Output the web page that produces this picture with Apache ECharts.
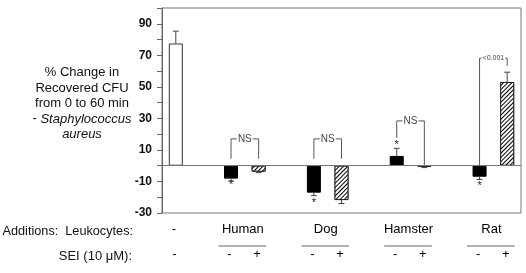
<!DOCTYPE html>
<html>
<head>
<meta charset="utf-8">
<script src="https://cdn.jsdelivr.net/npm/echarts@6/dist/echarts.min.js"></script>
<style>
html,body{margin:0;padding:0;background:#fff;}
#c{width:526px;height:273px;}
</style>
</head>
<body>
<div id="c"></div>
<script>
// ---- data ----
const seiLabels = ['-', '', '-', '+', '', '-', '+', '', '-', '+', '', '-', '+'];
const groupNames = ['Human', 'Dog', 'Hamster', 'Rat'];
const controlLabel = '-';
const controlValue = [77.5];
const controlError = [7.8];
const leukValues = [-8.2, -17.1, 6.2, -7.0];
const leukErrors = [1.5, 1.9, 4.8, 1.7];
const seiValues = [-3.8, -21.8, -0.5, 53.1];
const seiErrors = [0.6, 2.2, 0.7, 6.2];
const starValues = [-10.3, -21.5, 14.9, -11.0];
const bracketTexts = ['NS', 'NS', 'NS', '<0.001'];
const bracketTops = [17, 17, 28.4, 68.2];
const bracketLeftEnds = [4.4, 4.4, 17.6, 0];
const bracketRightEnds = [4.4, 4.4, 0.4, 63.3];
const yLabelValues = [-30, -10, 10, 30, 50, 70, 90];

// ---- build ----
const nSlots = seiLabels.length;
const leukSlot = g => 2 + 3 * g;
const seiSlot = g => 3 + 3 * g;
const controlData = new Array(nSlots).fill('-');
controlData[0] = controlValue[0];
const leukData = new Array(nSlots).fill('-');
const seiData = new Array(nSlots).fill('-');
groupNames.forEach((_, g) => { leukData[leukSlot(g)] = leukValues[g]; seiData[seiSlot(g)] = seiValues[g]; });

const nameAxis = new Array(nSlots * 2 + 1).fill('');
nameAxis[1] = controlLabel;
groupNames.forEach((n, g) => { nameAxis[6 + 6 * g] = n; });

const errData = [[0, controlValue[0], controlError[0]]];
groupNames.forEach((_, g) => {
  errData.push([leukSlot(g), leukValues[g], leukErrors[g]]);
  errData.push([seiSlot(g), seiValues[g], seiErrors[g]]);
});
const starData = groupNames.map((_, g) => [leukSlot(g), starValues[g]]);
const bracketData = groupNames.map((_, g) => [leukSlot(g), seiSlot(g), bracketTops[g], bracketLeftEnds[g], bracketRightEnds[g], g]);
const underlineData = groupNames.map((_, g) => [leukSlot(g), seiSlot(g)]);

const FONT = '"Liberation Sans", Arial, sans-serif';
const LINE = '#666';

const chart = echarts.init(document.getElementById('c'), null, {renderer: 'canvas'});
chart.setOption({
  animation: false,
  backgroundColor: '#fff',
  textStyle: {fontFamily: FONT},
  grid: {left: 162, right: 5, top: 8, bottom: 60, show: true, borderColor: '#777', borderWidth: 1},
  xAxis: [
    {type: 'category', data: seiLabels, position: 'bottom',
     axisLine: {show: false}, axisTick: {show: false},
     axisLabel: {interval: 0, margin: 35, fontSize: 13, color: '#000', fontFamily: FONT, padding: [0, 3, 0, 0]}},
    {type: 'category', data: nameAxis, boundaryGap: false, position: 'bottom',
     axisLine: {show: false}, axisTick: {show: false},
     axisLabel: {interval: 0, margin: 10, fontSize: 13, color: '#000', fontFamily: FONT, padding: [0, 4, 0, 0]}}
  ],
  yAxis: {
    type: 'value', min: -30, max: 100, interval: 10,
    axisLine: {show: true, lineStyle: {color: LINE}},
    axisTick: {show: true, length: 5, lineStyle: {color: LINE}},
    splitLine: {show: false},
    axisLabel: {margin: 10, fontSize: 12, fontWeight: 'bold', color: '#111', fontFamily: FONT,
      formatter: v => (yLabelValues.indexOf(v) >= 0 ? String(v) : '')}
  },
  graphic: [
    {type: 'text', x: 82, y: 103.5, style: {
      text: '% Change in\nRecovered CFU\nfrom 0 to 60 min\n- {i|Staphylococcus}\n{i|aureus}',
      align: 'center', verticalAlign: 'middle', fontSize: 13, lineHeight: 15.4, fontFamily: FONT, fill: '#111',
      rich: {i: {fontStyle: 'italic', fontSize: 13, lineHeight: 15.4, fontFamily: FONT, fill: '#111'}}}},
    {type: 'text', x: 133, y: 231, style: {text: 'Additions:  Leukocytes:', align: 'right', verticalAlign: 'middle',
      fontSize: 12.7, fontFamily: FONT, fill: '#111'}},
    {type: 'text', x: 132, y: 256, style: {text: 'SEI (10 \u03bcM):', align: 'right', verticalAlign: 'middle',
      fontSize: 13, fontFamily: FONT, fill: '#111'}}
  ],
  series: [
    {type: 'bar', name: 'control', data: controlData, barWidth: 14, barGap: '-100%',
     itemStyle: {color: '#fff', borderColor: '#333', borderWidth: 1}},
    {type: 'bar', name: 'leukocytes', data: leukData, barWidth: 14, barGap: '-100%',
     itemStyle: {color: '#000', borderColor: '#000', borderWidth: 1},
     markLine: {silent: true, symbol: ['none', 'none'], label: {show: false},
       lineStyle: {color: '#777', type: 'solid', width: 1}, data: [{yAxis: 0}]}},
    {type: 'bar', name: 'leukocytes + SEI', data: seiData, barWidth: 14, barGap: '-100%',
     itemStyle: {color: '#fff', borderColor: '#222', borderWidth: 1,
       decal: {symbol: 'rect', symbolSize: 1, color: '#000', backgroundColor: '#fff',
               dashArrayX: [1, 0], dashArrayY: [1, 2], rotation: -Math.PI / 4}}},
    {type: 'custom', name: 'err', data: errData, z: 5,
     renderItem: (params, api) => {
       const x = api.value(0), v = api.value(1), e = api.value(2);
       const d = v >= 0 ? 1 : -1;
       const p0 = api.coord([x, v]), p1 = api.coord([x, v + d * e]);
       const st = {stroke: '#444', lineWidth: 1};
       return {type: 'group', children: [
         {type: 'line', shape: {x1: p0[0], y1: p0[1], x2: p1[0], y2: p1[1]}, style: st},
         {type: 'line', shape: {x1: p1[0] - 3, y1: p1[1], x2: p1[0] + 3, y2: p1[1]}, style: st}]};
     }},
    {type: 'custom', name: 'stars', data: starData, z: 6,
     renderItem: (params, api) => {
       const p = api.coord([api.value(0), api.value(1)]);
       return {type: 'text', x: p[0], y: p[1] + 3, style: {text: '*', align: 'center', verticalAlign: 'middle',
         fontSize: 11, fontFamily: FONT, fill: '#222'}};
     }},
    {type: 'custom', name: 'brackets', data: bracketData, z: 6,
     renderItem: (params, api) => {
       const a = api.value(0), b = api.value(1), top = api.value(2), le = api.value(3), re = api.value(4), i = api.value(5);
       const pl = api.coord([a, le]), pt = api.coord([a, top]), pr = api.coord([b, re]), prt = api.coord([b, top]);
       const txt = bracketTexts[i];
       const small = txt.length > 3;
       return {type: 'group', children: [
         {type: 'polyline', shape: {points: [[pl[0], pl[1]], [pt[0], pt[1]], [prt[0], prt[1]], [pr[0], pr[1]]]},
          style: {stroke: '#555', lineWidth: 1, fill: null}},
         {type: 'text', x: (pt[0] + prt[0]) / 2, y: pt[1], z2: 10, style: {text: txt, align: 'center', verticalAlign: 'middle',
           fontSize: small ? 7 : 10, fontFamily: FONT, fill: '#444', backgroundColor: '#fff', padding: [0, 1]}}]};
     }},
    {type: 'custom', name: 'underlines', data: underlineData, z: 6, clip: false,
     renderItem: (params, api) => {
       const pa = api.coord([api.value(0), -30]), pb = api.coord([api.value(1), -30]);
       const y = pa[1] + 33;
       return {type: 'line', shape: {x1: pa[0] - 12.5, y1: y, x2: pb[0] + 7.5, y2: y},
         style: {stroke: '#999', lineWidth: 1.5}};
     }}
  ]
});
</script>
</body>
</html>
